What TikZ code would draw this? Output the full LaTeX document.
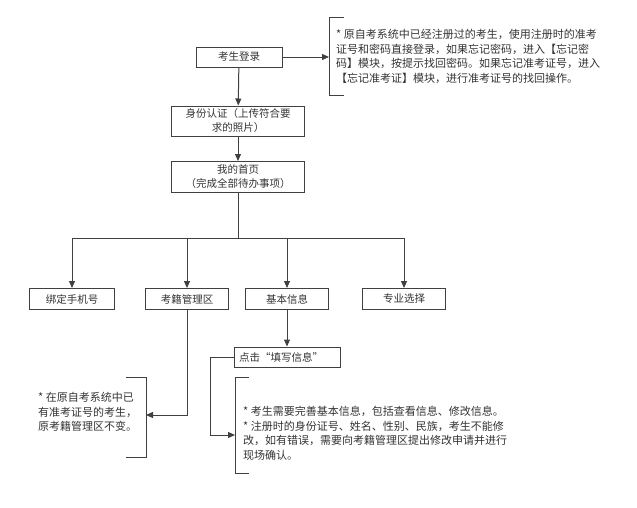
\documentclass[tikz,border=0pt]{standalone}
\usepackage{fontspec}
\setmainfont{Noto Sans CJK SC}
\usetikzlibrary{arrows.meta}
\tikzset{
	box/.style={draw=black!75,line width=1pt,inner sep=2pt,align=center,font=\fontsize{10.5}{14}\selectfont,text=black!80},
	note/.style={align=left,inner sep=0pt,anchor=north west,font=\fontsize{11}{14.6}\selectfont,text=black!80},
	link/.style={line width=1pt,draw=black!75,-{Triangle[length=7pt,width=6pt]}},
	brk/.style={line width=1pt,draw=black!75}
}
\begin{document}
\begin{tikzpicture}[x=1pt,y=-1pt]
	\useasboundingbox (0,0) rectangle (637,507);
	\node[box,minimum width=86,minimum height=20] (login) at (239,57) {考生登录};
	\node[box,minimum width=133,minimum height=30] (auth) at (238,121) {身份认证（上传符合要\\求的照片）};
	\node[box,minimum width=133,minimum height=31] (home) at (238,177) {我的首页\\（完成全部待办事项）};
	\node[box,minimum width=85,minimum height=21] (phone) at (72,299) {绑定手机号};
	\node[box,minimum width=83,minimum height=21] (area) at (187,299) {考籍管理区};
	\node[box,minimum width=83,minimum height=21] (info) at (287,299) {基本信息};
	\node[box,minimum width=83,minimum height=21] (major) at (404,299) {专业选择};
	\node[box,minimum width=106,minimum height=20,text width=96,align=left] (fill) at (287,357) {点击“填写信息”};
	% notes
	\draw[brk] (344,17) -- (329,17) -- (329,95) -- (344,95);
	\node[note] (n1) at (336,29) {* 原自考系统中已经注册过的考生，使用注册时的准考\\证号和密码直接登录，如果忘记密码，进入【忘记密\\码】模块，按提示找回密码。如果忘记准考证号，进入\\【忘记准考证】模块，进行准考证号的找回操作。};
	\draw[brk] (126,377) -- (146,377) -- (146,457) -- (126,457);
	\node[note] (n2) at (38,392) {* 在原自考系统中已\\有准考证号的考生，\\原考籍管理区不变。};
	\draw[brk] (249,377) -- (235,377) -- (235,473) -- (249,473);
	\node[note] (n3) at (243,406) {* 考生需要完善基本信息，包括查看信息、修改信息。\\* 注册时的身份证号、姓名、性别、民族，考生不能修\\改，如有错误，需要向考籍管理区提出修改申请并进行\\现场确认。};
	\coordinate (b1) at (329,57);
	\coordinate (b2) at (146,415);
	\coordinate (b3) at (235,435);
	\coordinate (split) at (238,238);
	% connectors
	\draw[link] (login) -- (b1);
	\draw[link] (login) -- (auth);
	\draw[link] (auth) -- (home);
	\draw[line width=1pt,draw=black!75] (home.south) -- (split);
	\foreach \t in {phone,area,info,major}
		\draw[link] (split) -| (\t.north);
	\draw[link] (area.south) |- (b2);
	\draw[link] (info) -- (fill);
	\draw[link] (fill.west) -- ++(-23,0) |- (b3);
\end{tikzpicture}
\end{document}
